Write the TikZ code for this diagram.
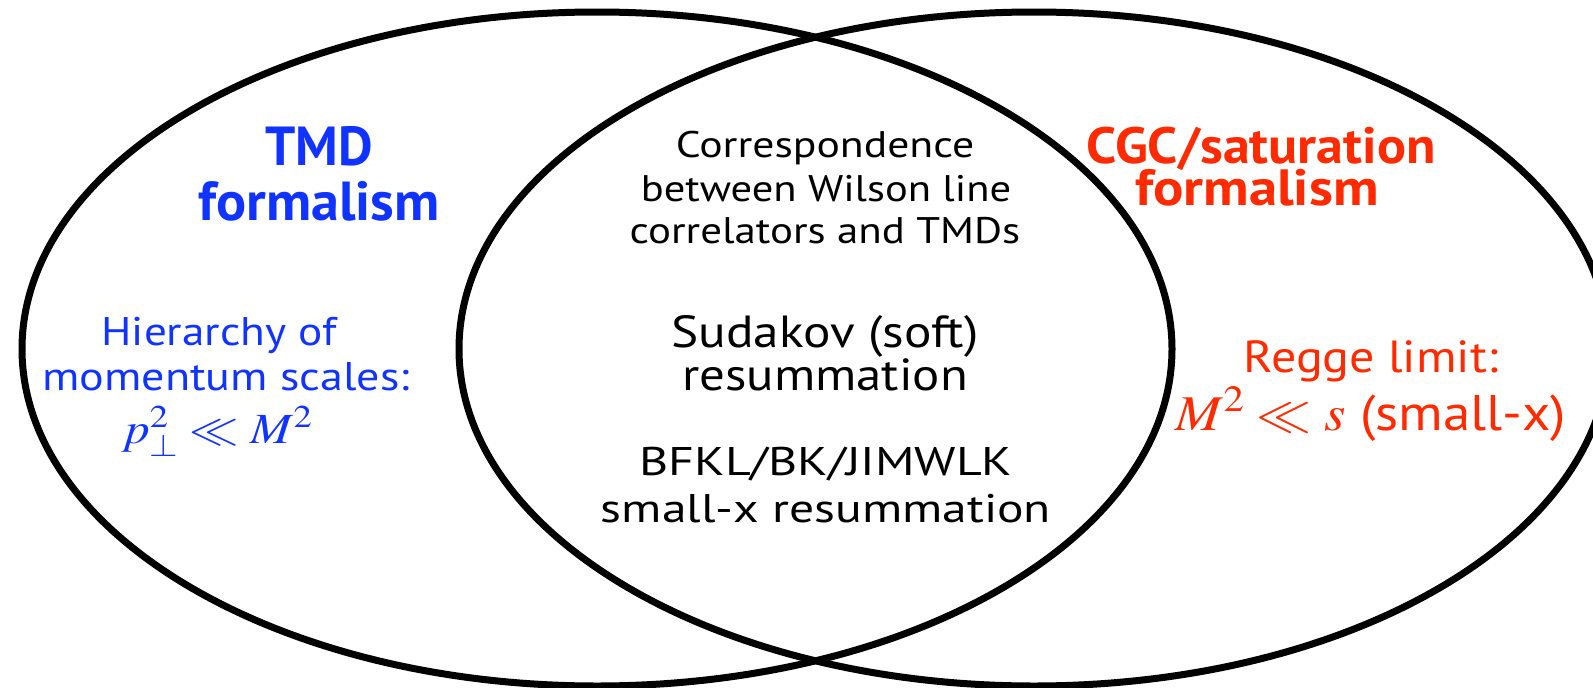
\documentclass[tikz,border=0pt]{standalone}
\usepackage{mathptmx}
\usepackage{fontspec}
\usepackage{graphicx}
\setmainfont{PT Sans}
\definecolor{tmdblue}{RGB}{17,51,255}
\definecolor{cgcred}{RGB}{255,42,0}
\newcommand{\hx}[2][1.2]{\scalebox{#1}[1]{#2}}
\begin{document}
\begin{tikzpicture}[x=1pt,y=-1pt,
  venn/.style={draw=black, line width=7pt},
  txt/.style={anchor=base, inner sep=0pt, outer sep=0pt},
  title/.style={txt, font=\bfseries\fontsize{#1}{#1}\selectfont},
  plain/.style={txt, font=\fontsize{#1}{#1}\selectfont}]
\useasboundingbox (0,0) rectangle (1593,688);
\draw[venn] (597,349) ellipse [x radius=575, y radius=337];
\draw[venn] (1034,349) ellipse [x radius=575, y radius=337];
% left: TMD
\node[title=55, text=tmdblue] (tmdA) at (319,165) {\hx[0.97]{TMD}};
\node[title=55, text=tmdblue] (tmdB) at (319,220) {\hx[1.02]{formalism}};
\node[plain=40, text=tmdblue] (hierA) at (219,345) {\hx[1.13]{Hierarchy of}};
\node[plain=40, text=tmdblue] (hierB) at (226,390) {\hx[1.15]{momentum scales:}};
\node[plain=43, text=tmdblue] (hierC) at (217,443) {\hx[1.15]{$p_\perp^2 \ll M^2$}};
% middle
\node[plain=37] (corA) at (825,157) {\hx[1.18]{Correspondence}};
\node[plain=37] (corB) at (826,201) {\hx[1.15]{between Wilson line}};
\node[plain=37] (corC) at (825,243) {\hx[1.16]{correlators and TMDs}};
\node[plain=45] (sudA) at (825,347) {\hx[1.14]{Sudakov (soft)}};
\node[plain=45] (sudB) at (825,390) {\hx[1.13]{resummation}};
\node[plain=40] (bfA) at (826,475) {\hx[1.25]{BFKL/BK/JIMWLK}};
\node[plain=40] (bfB) at (826,522) {\hx[1.24]{small-x resummation}};
% right: CGC
\node[title=51, text=cgcred] (cgcA) at (1261,163) {\hx[1.06]{CGC/saturation}};
\node[title=51, text=cgcred] (cgcB) at (1257,205) {\hx[1.11]{formalism}};
\node[plain=45, text=cgcred] (regA) at (1371,372) {\hx[1.11]{Regge limit:}};
\node[plain=50, text=cgcred] (regB) at (1371,430) {\hx[1.1]{$M^2 \ll s$ (small-x)}};
\end{tikzpicture}
\end{document}
